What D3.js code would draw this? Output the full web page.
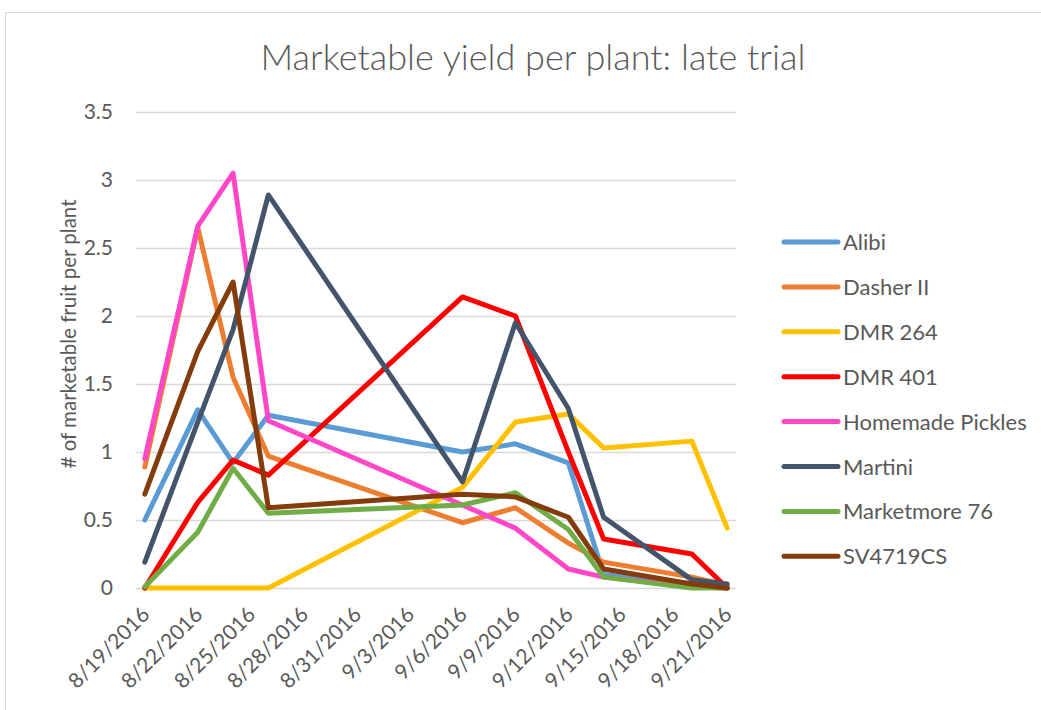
<!DOCTYPE html>
<html>
<head>
<meta charset="utf-8">
<script src="https://cdn.jsdelivr.net/npm/d3@7"></script>
<style>
  body { margin: 0; background: #fff; }
  svg text { font-family: Lato, "Open Sans", sans-serif; fill: #595959; }
</style>
</head>
<body>
<svg id="chart" width="1041" height="710"></svg>
<script>
// Data
const dates = ["2016-08-19", "2016-08-22", "2016-08-24", "2016-08-26", "2016-09-06",
               "2016-09-09", "2016-09-12", "2016-09-14", "2016-09-19", "2016-09-21"];
const seriesNames = ["Alibi", "Dasher II", "DMR 264", "DMR 401", "Homemade Pickles",
                     "Martini", "Marketmore 76", "SV4719CS"];
const alibi      = [0.50, 1.31, 0.92, 1.27, 1.00, 1.06, 0.92, 0.10, 0.03, 0.00];
const dasher     = [0.89, 2.65, 1.55, 0.97, 0.48, 0.59, 0.33, 0.19, 0.08, 0.02];
const dmr264     = [0.00, 0.00, 0.00, 0.00, 0.74, 1.22, 1.28, 1.03, 1.08, 0.44];
const dmr401     = [0.00, 0.63, 0.94, 0.83, 2.14, 2.00, 1.00, 0.36, 0.25, 0.00];
const pickles    = [0.95, 2.66, 3.05, 1.23, 0.61, 0.44, 0.14, 0.08, 0.01, 0.00];
const martini    = [0.19, 1.22, 1.90, 2.89, 0.78, 1.95, 1.32, 0.52, 0.06, 0.03];
const marketmore = [0.01, 0.41, 0.88, 0.55, 0.61, 0.70, 0.43, 0.08, 0.00, 0.00];
const sv4719     = [0.69, 1.74, 2.25, 0.59, 0.69, 0.67, 0.52, 0.14, 0.03, 0.00];
const seriesValues = [alibi, dasher, dmr264, dmr401, pickles, martini, marketmore, sv4719];
const colors = ["#5B9BD5", "#ED7D31", "#FFC000", "#FF0000", "#FF47C8",
                "#44546A", "#70AD47", "#843C0C"];
const yTicks = [0, 0.5, 1, 1.5, 2, 2.5, 3, 3.5];
const xTickDates = ["2016-08-19", "2016-08-22", "2016-08-25", "2016-08-28", "2016-08-31", "2016-09-03",
                    "2016-09-06", "2016-09-09", "2016-09-12", "2016-09-15", "2016-09-18", "2016-09-21"];

const parse = d3.timeParse("%Y-%m-%d");
const fmt = d => (d.getMonth() + 1) + "/" + d.getDate() + "/" + d.getFullYear();
const halfDay = 12 * 3600 * 1000;

const svg = d3.select("#chart");

// chart frame
svg.append("rect")
    .attr("x", 5.5).attr("y", 12.5)
    .attr("width", 1100).attr("height", 800)
    .attr("fill", "none").attr("stroke", "#d9d9d9");

const plot = { left: 136, right: 736, top: 112, bottom: 588 };

const x = d3.scaleTime()
    .domain([new Date(parse(dates[0]) - halfDay), new Date(+parse(dates[dates.length - 1]) + halfDay)])
    .range([plot.left, plot.right]);
const y = d3.scaleLinear().domain([0, 3.5]).range([plot.bottom, plot.top]);

// gridlines
svg.append("g")
    .attr("transform", `translate(${plot.left},0)`)
    .call(d3.axisLeft(y).tickValues(yTicks).tickSize(-(plot.right - plot.left)).tickFormat(""))
    .call(g => g.select(".domain").remove())
    .call(g => g.selectAll("line").attr("stroke", "#d9d9d9").attr("stroke-width", 1.5));

// y tick labels
svg.append("g")
    .attr("transform", `translate(${plot.left},0)`)
    .call(d3.axisLeft(y).tickValues(yTicks).tickSize(0).tickPadding(23).tickFormat(d => d))
    .call(g => g.select(".domain").remove())
    .call(g => g.selectAll("text").style("font-size", "21px").attr("fill", "#595959"));

// x tick labels (rotated)
svg.append("g")
    .selectAll("text")
    .data(xTickDates.map(parse))
    .enter()
    .append("text")
    .attr("transform", d => `translate(${x(d) + 6},${plot.bottom + 28}) rotate(-45)`)
    .attr("text-anchor", "end")
    .style("font-size", "21px")
    .text(fmt);

// lines
const line = d3.line()
    .x((d, i) => x(parse(dates[i])))
    .y(d => y(d));

svg.append("g")
    .selectAll("path")
    .data(seriesValues)
    .enter()
    .append("path")
    .attr("d", line)
    .attr("fill", "none")
    .attr("stroke", (d, i) => colors[i])
    .attr("stroke-width", 5)
    .attr("stroke-linejoin", "round")
    .attr("stroke-linecap", "round");

// title
svg.append("text")
    .attr("x", 533).attr("y", 70)
    .attr("text-anchor", "middle")
    .style("font-size", "36px")
    .style("font-weight", 300)
    .text("Marketable yield per plant: late trial");

// y axis title
svg.append("text")
    .attr("transform", "translate(76,334) rotate(-90)")
    .attr("text-anchor", "middle")
    .style("font-size", "20.5px")
    .text("# of marketable fruit per plant");

// legend
const legend = svg.append("g")
    .selectAll("g")
    .data(seriesNames)
    .enter()
    .append("g")
    .attr("transform", (d, i) => `translate(784,${242 + i * 44.9})`);

legend.append("line")
    .attr("x1", 0).attr("x2", 54)
    .attr("stroke", (d, i) => colors[i])
    .attr("stroke-width", 5)
    .attr("stroke-linecap", "round");

legend.append("text")
    .attr("x", 59).attr("y", 8)
    .style("font-size", "22px")
    .text(d => d);
</script>
</body>
</html>
